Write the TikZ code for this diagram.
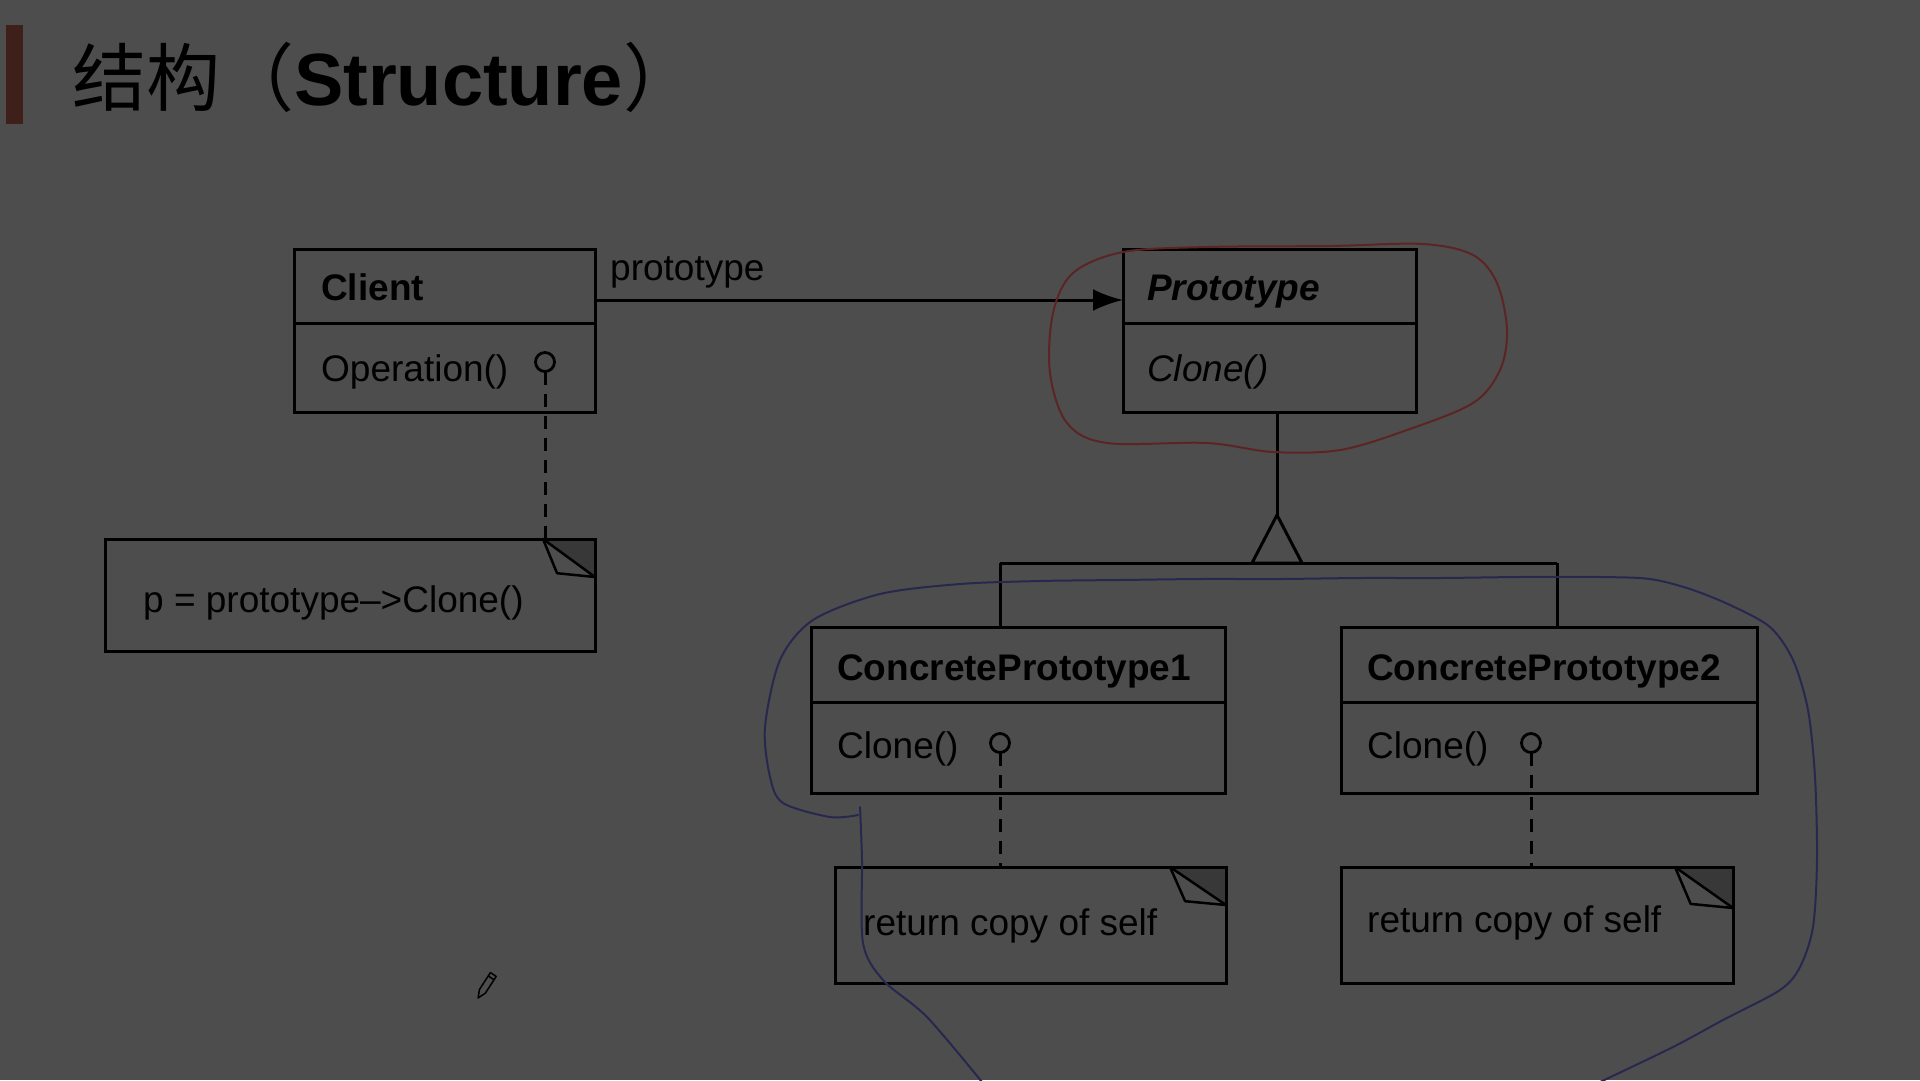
\documentclass[tikz,border=0pt]{standalone}
\usepackage{fontspec}
\setmainfont{Liberation Sans}
\newfontfamily\cjk{Noto Sans CJK SC}
\usetikzlibrary{arrows.meta,calc}
\definecolor{bg}{HTML}{4D4D4D}
\definecolor{foldc}{HTML}{383838}
\definecolor{barc}{HTML}{3F1F1A}
\definecolor{penred}{HTML}{5C2424}
\definecolor{penblue}{HTML}{28284F}
\newcommand\foldcorner[3]{%
  \fill[foldc] ($(#1.north east)+(-#2,0)$) -- (#1.north east) -- ($(#1.north east)+(0,#3)$) -- cycle;
  \draw[line width=3pt] (#1.north west) rectangle (#1.south east);
  \draw[line width=2.5pt] ($(#1.north east)+(-#2,0)$) -- ($(#1.north east)+(0,#3)$);
  \draw[line width=2.5pt,line join=round] ($(#1.north east)+(-#2,0)$) -- ($(#1.north east)+(-0.73*#2,0.9*#3)$) -- ($(#1.north east)+(0,#3)$);
}
\tikzset{
  umlbox/.style={draw=black, line width=3pt, rectangle, inner sep=0pt, outer sep=0pt},
  txt/.style={anchor=base west, inner sep=0pt, font=\fontsize{37}{44}\selectfont, text=black},
  conn/.style={draw=black, line width=3pt},
  dashconn/.style={draw=black, line width=3pt, dash pattern=on 13pt off 9pt},
  lolly/.style={circle, draw=black, line width=2.8pt, minimum size=19pt, inner sep=0pt, outer sep=0pt},
  freehand/.style={line width=2pt, line cap=round, line join=round},
}
\begin{document}
\begin{tikzpicture}[x=1pt,y=-1pt]
\fill[bg] (0,0) rectangle (1920,1080);
\useasboundingbox (0,0) rectangle (1920,1080);

% title
\fill[barc] (6,25) rectangle (23,124) node[coordinate] (bar) {};
\node[anchor=base west, inner sep=0pt, font=\fontsize{74}{88}\selectfont, text=black] (title) at (72,105)
  {{\cjk 结构（}{\bfseries Structure}{\cjk ）}};

% Client
\node[umlbox, minimum width=301pt, minimum height=163pt] (client) at (444.5,330.5) {};
\draw[line width=3pt] (client.west |- 0,323) coordinate (cdl) -- (cdl -| client.east);
\node[txt, font=\fontsize{37}{44}\selectfont\bfseries] (clientname) at (321,300) {Client};
\node[txt] (clientop) at (321,381) {Operation()};
\node[lolly] (cl) at (545,362) {};

% Prototype
\node[umlbox, minimum width=293pt, minimum height=163pt] (proto) at (1269.5,330.5) {};
\draw[line width=3pt] (proto.west |- 0,323) coordinate (pdl) -- (pdl -| proto.east);
\node[txt, font=\fontsize{37}{44}\selectfont\bfseries\itshape] (protoname) at (1147,300) {Prototype};
\node[txt, font=\fontsize{37}{44}\selectfont\itshape] (protoop) at (1147,381) {Clone()};

% association
\path (client.north east) ++(0,51) coordinate (a1);
\draw[conn, -{Latex[length=30pt,width=22pt]}] (a1) -- (a1 -| proto.west);
\node[txt] (assoclabel) at (610,280) {prototype};

% note for client
\node[umlbox, minimum width=490pt, minimum height=112pt] (note1) at (350,595) {};
\foldcorner{note1}{52}{38}
\node[txt] (note1txt) at (143,612) {p = prototype–>Clone()};
\draw[dashconn] (cl.south) -- (cl.south |- note1.north);

% Concrete prototypes
\node[umlbox, minimum width=414pt, minimum height=166pt] (cp1) at (1018,710) {};
\draw[line width=3pt] (cp1.west |- 0,702) coordinate (c1dl) -- (c1dl -| cp1.east);
\node[txt, font=\fontsize{37}{44}\selectfont\bfseries] (cp1name) at (837,680) {ConcretePrototype1};
\node[txt] (cp1op) at (837,758) {Clone()};
\node[lolly] (c1) at (1000,743) {};

\node[umlbox, minimum width=416pt, minimum height=166pt] (cp2) at (1549,710) {};
\draw[line width=3pt] (cp2.west |- 0,702) coordinate (c2dl) -- (c2dl -| cp2.east);
\node[txt, font=\fontsize{37}{44}\selectfont\bfseries] (cp2name) at (1367,680) {ConcretePrototype2};
\node[txt] (cp2op) at (1367,758) {Clone()};
\node[lolly] (c2) at (1531,743) {};

% notes for concrete prototypes
\node[umlbox, minimum width=391pt, minimum height=116pt] (note2) at (1030.5,925) {};
\foldcorner{note2}{56}{38}
\node[txt] (note2txt) at (863,935) {return copy of self};
\draw[dashconn] (c1.south) -- (c1.south |- note2.north);

\node[umlbox, minimum width=392pt, minimum height=116pt] (note3) at (1537,925) {};
\foldcorner{note3}{58}{41}
\node[txt] (note3txt) at (1367,932) {return copy of self};
\draw[dashconn] (c2.south) -- (c2.south |- note3.north);

% inheritance
\coordinate (apex) at (1277,515);
\coordinate (hl) at (1000,563);
\coordinate (hr) at (1557,563);
\draw[conn] (proto.south -| apex) -- (apex);
\draw[conn, line join=miter] (apex) -- (1252,563) -- (1302,563) -- cycle;
\draw[conn] (hl) -- (hr);
\draw[conn] (hl) -- (hl |- cp1.north);
\draw[conn] (hr) -- (hr |- cp2.north);

% freehand red loop
\draw[freehand, penred] plot[smooth cycle, tension=0.55] coordinates {
  (1123,252) (1207,247) (1330,246) (1423,244) (1473,255) (1497,283) (1507,330)
  (1500,370) (1473,403) (1407,430) (1340,450) (1273,452) (1207,443)
  (1107,443) (1067,423) (1050,373) (1053,313) (1073,273)};

% freehand blue loop
\draw[freehand, penblue] plot[smooth, tension=0.5] coordinates {
  (858,815) (830,817) (783,803) (770,777) (765,727) (780,660) (813,620) (880,594)
  (960,584) (1040,581) (1120,580) (1200,579) (1280,579) (1360,578) (1440,578)
  (1520,577) (1600,577) (1650,579) (1690,589) (1730,605) (1770,627) (1793,660)
  (1808,710) (1815,777) (1817,860) (1813,927) (1800,967) (1780,990) (1723,1020)
  (1673,1047) (1600,1082)};
\draw[freehand, penblue] plot[smooth, tension=0.5] coordinates {
  (860,807) (862,860) (863,943) (883,980) (927,1017) (982,1082)};

% pencil cursor
\draw[line width=1.5pt, line join=round] (478,998) -- (479.5,989.4) -- (490.4,972.6)
  -- (496.2,976.4) -- (485.3,993.2) -- cycle;
\draw[line width=1.5pt] (488.3,976) -- (494.1,979.8);
\end{tikzpicture}
\end{document}
